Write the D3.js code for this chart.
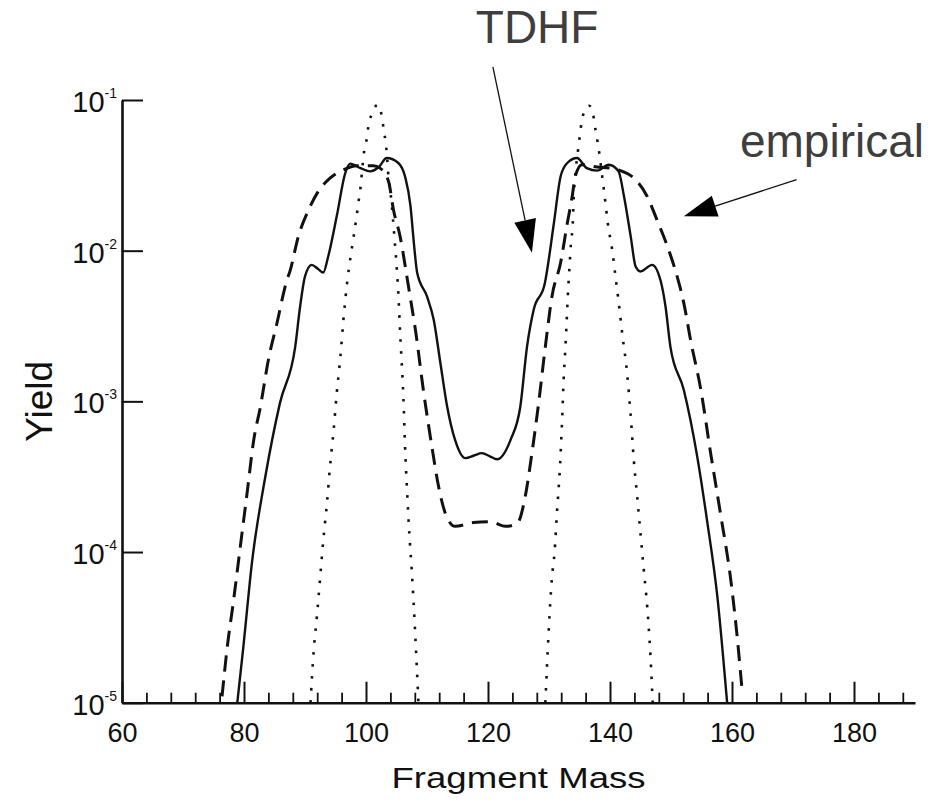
<!DOCTYPE html>
<html>
<head>
<meta charset="utf-8">
<script src="https://cdn.jsdelivr.net/npm/d3@7"></script>
<style>
  html, body { margin: 0; padding: 0; background: #fff; }
  svg { display: block; font-family: "Liberation Sans", Arial, Helvetica, sans-serif; }
</style>
</head>
<body>
<svg id="chart" width="949" height="803"></svg>
<script>
// Fragment mass yields: TDHF (solid), empirical (dashed), narrow model (dotted)
const tdhfMass  = [78.9, 79.9, 81.3, 83.5, 85.9, 88.4, 89.2, 90.0, 91.1, 92.1, 93.0, 93.8, 95.2, 96.6, 97.4, 99.1, 100.7, 102.1, 103.4, 105.3, 106.4, 107.3, 107.8, 108.4, 110.0, 111.1, 112.2, 113.3, 114.6, 116.3, 117.7, 119.0, 120.3, 121.5, 123.7, 125.3, 126.4, 127.5, 129.3, 130.8, 131.9, 133.0, 134.6, 136.2, 137.9, 139.8, 141.4, 142.3, 143.4, 144.2, 145.0, 146.9, 148.3, 149.1, 149.9, 152.1, 154.3, 155.9, 157.6, 159.2];
const tdhfYield = [1.0e-5, 2.36e-5, 8.47e-5, 3.17e-4, 9.77e-4, 2.31e-3, 4.26e-3, 6.75e-3, 8.05e-3, 7.59e-3, 7.16e-3, 9.14e-3, 1.69e-2, 3.27e-2, 3.78e-2, 3.53e-2, 3.36e-2, 3.59e-2, 4.12e-2, 3.82e-2, 3.11e-2, 1.97e-2, 1.18e-2, 7.10e-3, 4.97e-3, 3.48e-3, 1.79e-3, 9.25e-4, 5.55e-4, 4.20e-4, 4.37e-4, 4.53e-4, 4.32e-4, 4.13e-4, 5.55e-4, 9.25e-4, 2.31e-3, 4.07e-3, 6.03e-3, 1.52e-2, 3.11e-2, 3.82e-2, 4.12e-2, 3.53e-2, 3.40e-2, 3.72e-2, 3.36e-2, 2.29e-2, 1.24e-2, 7.85e-3, 7.28e-3, 8.05e-3, 6.31e-3, 4.26e-3, 2.31e-3, 1.19e-3, 4.30e-4, 1.63e-4, 5.06e-5, 1.0e-5];

const empMass  = [76.4, 77.2, 78.3, 79.4, 80.5, 81.6, 82.7, 84.0, 85.4, 86.9, 87.6, 88.9, 90.6, 92.0, 94.1, 96.3, 98.5, 101.2, 102.3, 103.7, 104.5, 105.6, 106.7, 107.5, 108.1, 109.4, 110.8, 111.9, 113.0, 114.6, 117.6, 120.4, 122.9, 124.8, 126.1, 127.2, 128.3, 129.4, 130.5, 131.9, 133.0, 133.8, 134.3, 135.4, 137.9, 140.1, 141.7, 143.9, 146.1, 147.7, 149.4, 151.0, 152.1, 153.2, 154.9, 156.5, 158.1, 159.8, 160.9, 161.7];
const empYield = [1.1e-5, 2.24e-5, 4.81e-5, 1.09e-4, 2.45e-4, 5.55e-4, 9.25e-4, 1.89e-3, 3.30e-3, 6.10e-3, 7.46e-3, 1.24e-2, 1.87e-2, 2.41e-2, 3.03e-2, 3.44e-2, 3.66e-2, 3.66e-2, 3.53e-2, 2.88e-2, 1.87e-2, 1.24e-2, 6.75e-3, 4.26e-3, 2.99e-3, 1.19e-3, 5.01e-4, 2.72e-4, 1.81e-4, 1.48e-4, 1.57e-4, 1.59e-4, 1.48e-4, 1.55e-4, 2.33e-4, 4.53e-4, 9.73e-4, 2.31e-3, 5.01e-3, 8.32e-3, 1.52e-2, 2.29e-2, 3.11e-2, 3.72e-2, 3.59e-2, 3.53e-2, 3.40e-2, 3.03e-2, 2.29e-2, 1.60e-2, 1.07e-2, 6.75e-3, 4.49e-3, 2.56e-3, 1.19e-3, 4.53e-4, 1.81e-4, 6.53e-5, 2.61e-5, 1.15e-5];

// null marks the gap between the two narrow peaks
const dotMass  = [90.9, 91.4, 92.0, 92.5, 93.0, 93.6, 94.1, 94.7, 95.2, 95.8, 96.3, 96.9, 97.5, 98.0, 98.5, 98.8, 99.1, 99.3, 99.7, 100.15, 100.4, 101.0, 101.9, 102.6, 102.9, 103.2, 103.4, 103.7, 104.0, 104.4, 104.7, 105.0, 105.3, 105.6, 106.2, 106.4, 106.7, 107.1, 107.5, 108.6,
                  119.0,
                  129.4, 130.5, 130.9, 131.3, 131.8, 132.15, 132.4, 132.7, 133.2, 133.4, 133.6, 133.9, 134.06, 134.33, 134.77, 135.04, 135.32, 135.7, 136.6, 137.24, 137.62, 138.0, 138.32, 138.72, 139.26, 139.64, 140.36, 140.9, 141.44, 142.0, 142.8, 143.36, 143.9, 144.46, 145.0, 145.54, 146.1, 146.64, 147.0];
const dotYield = [1.0e-5, 2.13e-5, 3.93e-5, 6.87e-5, 1.20e-4, 2.11e-4, 3.69e-4, 6.47e-4, 1.13e-3, 1.98e-3, 3.48e-3, 6.10e-3, 9.3e-3, 1.26e-2, 1.74e-2, 2.14e-2, 2.63e-2, 3.19e-2, 4.60e-2, 5.60e-2, 6.75e-2, 8.11e-2, 9.31e-2, 7.78e-2, 6.35e-2, 5.31e-2, 4.45e-2, 3.03e-2, 2.47e-2, 1.66e-2, 1.17e-2, 8.1e-3, 5.2e-3, 2.82e-3, 8.9e-4, 5.01e-4, 2.72e-4, 1.33e-4, 7.60e-5, 1.0e-5,
                  null,
                  1.0e-5, 6.87e-5, 9.82e-5, 1.81e-4, 3.69e-4, 7.53e-4, 1.39e-3, 2.31e-3, 6.10e-3, 8.28e-3, 1.12e-2, 1.52e-2, 2.29e-2, 3.27e-2, 4.68e-2, 5.73e-2, 7.03e-2, 8.20e-2, 9.16e-2, 7.98e-2, 6.35e-2, 5.18e-2, 4.22e-2, 3.11e-2, 2.07e-2, 1.52e-2, 1.01e-2, 6.75e-3, 4.49e-3, 2.82e-3, 1.54e-3, 8.36e-4, 4.09e-4, 2.33e-4, 1.33e-4, 7.60e-5, 4.34e-5, 2.02e-5, 1.0e-5];

// axis ticks
const xMajorTicks = [60, 80, 100, 120, 140, 160, 180];
const xMinorTicks = d3.range(64, 190, 4).filter(v => v % 20 !== 0);
const yTicks = [1e-5, 1e-4, 1e-3, 1e-2, 1e-1];
const yTickExponents = ["-5", "-4", "-3", "-2", "-1"];

// annotation labels with arrows (data coordinates)
const annotLabels = ["TDHF", "empirical"];
const annotLabelPos = [[118.0, 0.24], [161.3, 0.042]];
const annotArrowFrom = [[120.8, 0.166], [170.6, 0.0296]];
const annotArrowTo = [[127.2, 0.0097], [152.1, 0.0169]];

const svg = d3.select("#chart");
const x = d3.scaleLinear().domain([60, 190]).range([122, 915]);
const y = d3.scaleLog().domain([1e-5, 1e-1]).range([702.7, 100]);

// clip curves to the plotting area
svg.append("defs").append("clipPath").attr("id", "plotClip")
  .append("rect")
  .attr("x", x(60)).attr("y", 60)
  .attr("width", x(190) - x(60)).attr("height", y(1e-5) - 60);

const line = d3.line()
  .defined(d => d[1] !== null)
  .x(d => x(d[0]))
  .y(d => y(d[1]))
  .curve(d3.curveMonotoneX);

const zip = (a, b) => a.map((v, i) => [v, b[i]]);
const curves = svg.append("g").attr("clip-path", "url(#plotClip)").attr("fill", "none").attr("stroke", "#111");

curves.append("path")
  .attr("d", line(zip(dotMass, dotYield)))
  .attr("stroke-width", 2.6)
  .attr("stroke-dasharray", "2.6 9.4");

curves.append("path")
  .attr("d", line(zip(empMass, empYield)))
  .attr("stroke-width", 3)
  .attr("stroke-dasharray", "16 9");

curves.append("path")
  .attr("d", line(zip(tdhfMass, tdhfYield)))
  .attr("stroke-width", 2.4);

// x axis: major and minor ticks pointing inward
const xAxisY = y(1e-5);
svg.append("g")
  .attr("transform", `translate(0,${xAxisY})`)
  .call(d3.axisBottom(x).tickValues(xMinorTicks).tickSize(-10).tickSizeOuter(0).tickFormat(""))
  .call(g => g.select(".domain").remove())
  .call(g => g.selectAll(".tick line").attr("stroke", "#111").attr("stroke-width", 1.8));

const xAxis = svg.append("g")
  .attr("transform", `translate(0,${xAxisY})`)
  .call(d3.axisBottom(x).tickValues(xMajorTicks).tickSize(-21).tickSizeOuter(0).tickPadding(20).tickFormat(d3.format("d")));
xAxis.select(".domain").attr("stroke", "#111").attr("stroke-width", 2.6);
xAxis.selectAll(".tick line").attr("stroke", "#111").attr("stroke-width", 2);
xAxis.selectAll(".tick text")
  .attr("font-family", "'Liberation Sans', Arial, sans-serif")
  .attr("font-size", 27).attr("fill", "#111");

// y axis (log) with inward ticks; labels as 10 with superscript exponent
const yAxis = svg.append("g")
  .attr("transform", `translate(${x(60)},0)`)
  .call(d3.axisLeft(y).tickValues(yTicks).tickSize(-21).tickSizeOuter(0).tickFormat(""));
yAxis.select(".domain").attr("stroke", "#111").attr("stroke-width", 2.6);
yAxis.selectAll(".tick line").attr("stroke", "#111").attr("stroke-width", 2);

const yLabels = svg.append("g").attr("fill", "#111");
yTicks.forEach((t, i) => {
  const txt = yLabels.append("text")
    .attr("x", x(60) - 5).attr("y", y(t) + 12)
    .attr("text-anchor", "end")
    .attr("font-size", 29);
  txt.append("tspan").text("10");
  txt.append("tspan").attr("font-size", 14).attr("dy", -14).text(yTickExponents[i]);
});

// axis titles
svg.append("text")
  .attr("transform", `translate(${(x(60) + x(190)) / 2},788) scale(1.22,1)`)
  .attr("text-anchor", "middle")
  .attr("font-size", 30)
  .attr("fill", "#111")
  .text("Fragment Mass");

svg.append("text")
  .attr("transform", `translate(52,${y(1e-3)}) rotate(-90)`)
  .attr("text-anchor", "middle")
  .attr("font-size", 37)
  .attr("fill", "#111")
  .text("Yield");

// annotations
const annot = svg.append("g");
annotLabels.forEach((label, i) => {
  annot.append("text")
    .attr("x", x(annotLabelPos[i][0])).attr("y", y(annotLabelPos[i][1]))
    .attr("font-size", 46)
    .attr("fill", "#3e3e3e")
    .text(label);

  const x0 = x(annotArrowFrom[i][0]), y0 = y(annotArrowFrom[i][1]);
  const x1 = x(annotArrowTo[i][0]), y1 = y(annotArrowTo[i][1]);
  const len = Math.hypot(x1 - x0, y1 - y0);
  const ux = (x1 - x0) / len, uy = (y1 - y0) / len;
  const headLen = 33, headHalf = 11;
  const bx = x1 - ux * headLen, by = y1 - uy * headLen;
  annot.append("line")
    .attr("x1", x0).attr("y1", y0).attr("x2", bx).attr("y2", by)
    .attr("stroke", "#111").attr("stroke-width", 1.3);
  annot.append("path")
    .attr("d", `M${x1},${y1}L${bx - uy * headHalf},${by + ux * headHalf}L${bx + uy * headHalf},${by - ux * headHalf}Z`)
    .attr("fill", "#000");
});
</script>
</body>
</html>
